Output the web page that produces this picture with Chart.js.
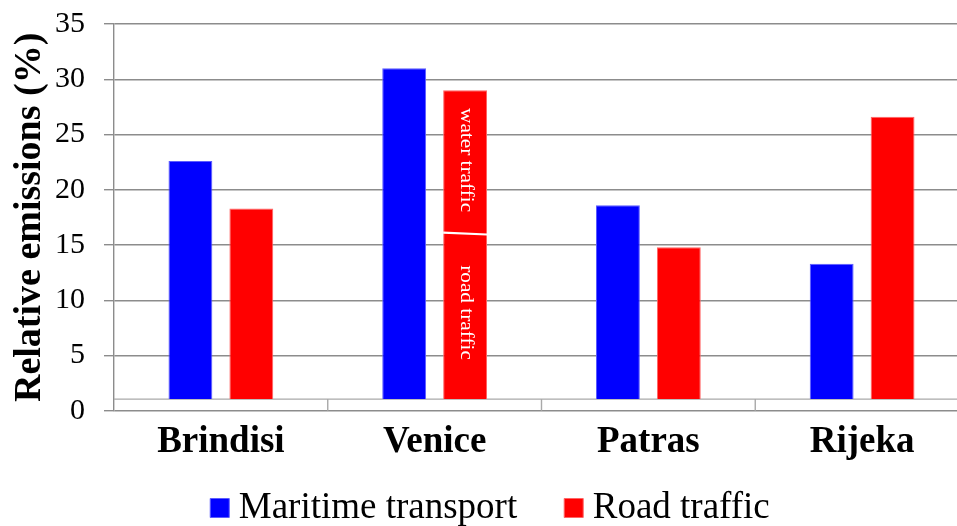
<!DOCTYPE html>
<html>
<head>
<meta charset="utf-8">
<title>Relative emissions by port</title>
<script src="https://cdn.jsdelivr.net/npm/chart.js@4.4.1/dist/chart.umd.min.js"></script>
<style>
  html, body { margin: 0; padding: 0; background: #ffffff; overflow: hidden; }
  canvas { display: block; }
</style>
</head>
<body>
<canvas id="chart" width="980" height="526"></canvas>
<script>
// Port categories
const ports = ['Brindisi', 'Venice', 'Patras', 'Rijeka'];
// Relative emissions (%) per source
const maritimeTransport = [22.6, 31.0, 18.6, 13.3];
const roadTraffic = [18.3, 29.0, 14.8, 26.6];
// Venice road bar: lower part is road traffic, the rest above it is water traffic
const roadShare = [null, 16.0, null, null];
const segmentLabels = ['road traffic', 'water traffic'];
// Series names
const seriesNames = ['Maritime transport', 'Road traffic'];
// Value axis
const yMin = 0, yMax = 35, yStep = 5;
// Depth of the chart floor, in value units; the columns stand on it
const floorLevel = 1.05;

const SERIF = '"Liberation Serif", "Times New Roman", serif';
const GRID = '#8c8c8c';
const FLOOR = '#a9a9a9';

// Floor edge and the category separators under the columns
const floorPlugin = {
  id: 'floor',
  beforeDatasetsDraw(chart) {
    const { ctx, chartArea, scales: { x, y } } = chart;
    const yf = y.getPixelForValue(floorLevel);
    const y0 = y.getPixelForValue(yMin);
    ctx.save();
    ctx.strokeStyle = FLOOR;
    ctx.lineWidth = 1.4;
    ctx.beginPath();
    ctx.moveTo(chartArea.left, yf);
    ctx.lineTo(chartArea.right, yf);
    for (let i = 1; i < ports.length; i++) {
      const bx = (x.getPixelForValue(i - 1) + x.getPixelForValue(i)) / 2;
      ctx.moveTo(bx, yf);
      ctx.lineTo(bx, y0);
    }
    ctx.stroke();
    ctx.restore();
  }
};

// Split line and vertical captions inside a divided column
const segmentPlugin = {
  id: 'segments',
  afterDatasetsDraw(chart) {
    const { ctx, scales: { y } } = chart;
    const meta = chart.getDatasetMeta(1);
    roadShare.forEach((v, i) => {
      if (v == null) return;
      const bar = meta.data[i];
      const { x: cx, y: top, width, base } = bar.getProps(['x', 'y', 'width', 'base'], true);
      const ys = y.getPixelForValue(v);
      ctx.save();
      ctx.strokeStyle = '#ffffff';
      ctx.lineWidth = 2.2;
      ctx.beginPath();
      ctx.moveTo(cx - width / 2, ys - 1.2);
      ctx.lineTo(cx + width / 2, ys + 0.6);
      ctx.stroke();

      ctx.fillStyle = '#ffffff';
      ctx.font = '19px ' + SERIF;
      ctx.textAlign = 'center';
      ctx.textBaseline = 'middle';
      const centres = [(ys + base) / 2 - 4, (top + ys) / 2 - 2];
      segmentLabels.forEach((txt, k) => {
        ctx.save();
        ctx.translate(cx + 1, centres[k]);
        ctx.rotate(Math.PI / 2);
        ctx.scale(1.12, 1);
        ctx.fillText(txt, 0, 0);
        ctx.restore();
      });
      ctx.restore();
    });
  }
};

// Places the legend row under the category labels
const legendPlacement = {
  id: 'legendPlacement',
  afterLayout(chart) {
    const lg = chart.legend;
    if (!lg) return;
    const pad = lg.options.labels.padding;
    const dy = 489.5 - (lg.top + pad);
    const dx = 10;
    lg.top += dy;
    lg.left += dx; lg.right += dx;
    lg.bottom = chart.height;
    lg.height = lg.bottom - lg.top;
  }
};

new Chart(document.getElementById('chart'), {
  type: 'bar',
  data: {
    labels: ports,
    datasets: [
      {
        label: seriesNames[0],
        data: maritimeTransport,
        backgroundColor: '#0000ff',
        borderColor: '#5c5cff',
        borderWidth: 1,
        base: floorLevel
      },
      {
        label: seriesNames[1],
        data: roadTraffic,
        backgroundColor: '#ff0000',
        borderColor: '#ff6464',
        borderWidth: 1,
        base: floorLevel
      }
    ]
  },
  options: {
    responsive: false,
    animation: false,
    devicePixelRatio: 1,
    layout: { padding: { left: 0, right: 11, top: 24, bottom: 0 } },
    datasets: {
      bar: { categoryPercentage: 0.57, barPercentage: 0.72 }
    },
    scales: {
      x: {
        grid: { display: false, drawTicks: false, tickLength: 0 },
        border: { display: false },
        ticks: {
          color: '#000000',
          padding: 10,
          font: { family: SERIF, size: 37, weight: 'bold', lineHeight: 1.2 }
        },
        afterFit(scale) { scale.height = 65.3; }
      },
      y: {
        min: yMin,
        max: yMax,
        ticks: {
          stepSize: yStep,
          color: '#000000',
          padding: 19,
          font: { family: SERIF, size: 30, lineHeight: 0.3 }
        },
        grid: { color: GRID, lineWidth: 1.4, tickLength: 10, tickColor: GRID, drawTicks: true },
        border: { display: true, color: GRID, width: 1.4 },
        title: {
          display: true,
          text: 'Relative emissions (%)',
          color: '#000000',
          font: { family: SERIF, size: 38, weight: 'bold', lineHeight: 1.2 },
          padding: { top: 7, bottom: 1 }
        },
        afterFit(scale) { scale.width = 114; }
      }
    },
    plugins: {
      legend: {
        position: 'bottom',
        maxHeight: 50,
        labels: {
          color: '#000000',
          font: { family: SERIF, size: 37 },
          usePointStyle: true,
          pointStyle: 'rect',
          boxWidth: 1,
          boxHeight: 19,
          padding: 56
        }
      },
      tooltip: { enabled: false }
    }
  },
  plugins: [floorPlugin, segmentPlugin, legendPlacement]
});
</script>
</body>
</html>
